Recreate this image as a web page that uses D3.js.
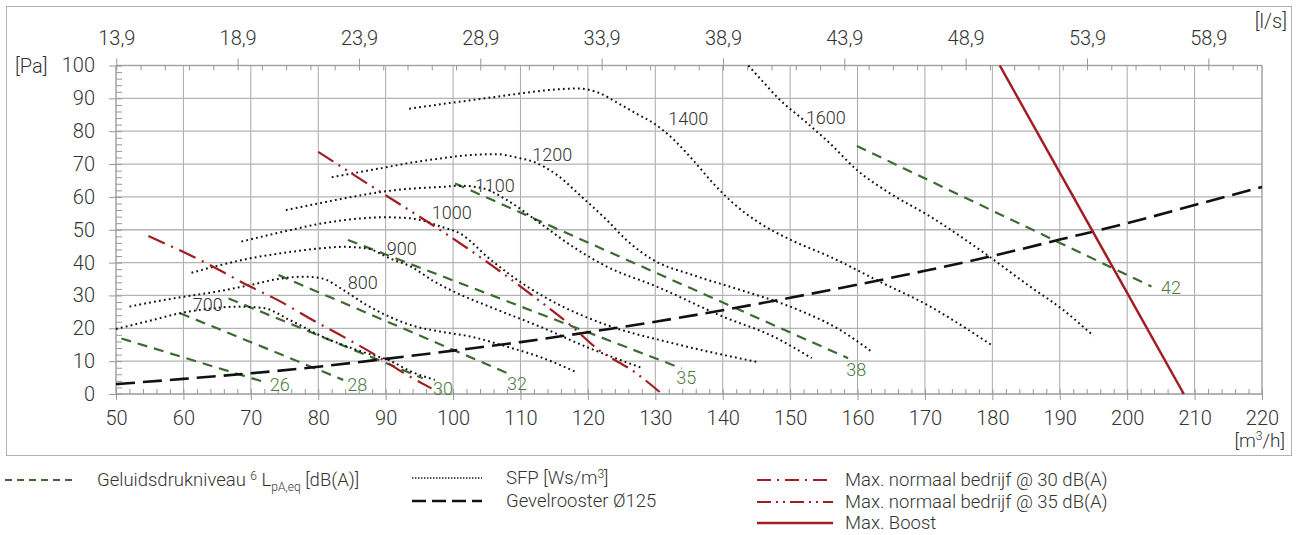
<!DOCTYPE html>
<html>
<head>
<meta charset="utf-8">
<script src="https://cdn.jsdelivr.net/npm/d3@7"></script>
<style>
  body { margin: 0; background: #fff; }
  svg text { font-family: Roboto, "Noto Sans", sans-serif; font-weight: 300; fill: #333; }
</style>
</head>
<body>
<div id="chart"></div>
<script>
// tick labels
const flowTicks = [50, 60, 70, 80, 90, 100, 110, 120, 130, 140, 150, 160, 170, 180, 190, 200, 210, 220];
const pressureTicks = [0, 10, 20, 30, 40, 50, 60, 70, 80, 90, 100];
const lsTicks = [13.9, 18.9, 23.9, 28.9, 33.9, 38.9, 43.9, 48.9, 53.9, 58.9];
const lsLabels = ["13,9", "18,9", "23,9", "28,9", "33,9", "38,9", "43,9", "48,9", "53,9", "58,9"];

// SFP curves [m3/h, Pa]
const sfp700 = [[50, 19.8], [55, 22.3], [59.5, 24.6], [64, 26], [68, 26.6], [71.8, 26.2], [75.8, 22.5], [80.7, 17.4], [87.2, 12.4], [90.6, 10.2], [93.6, 7], [97.3, 4.3]];
const sfp800 = [[52, 26.6], [56, 28.2], [60, 29.6], [65, 31.2], [70, 33.2], [74, 35], [77.8, 35.7], [80.5, 35.2], [83.7, 31.7], [87, 27.3], [90.6, 23.5], [94, 20.8], [98.1, 19], [103, 17.3], [108, 14.4], [113, 11.2], [118.1, 6.8]];
const sfp900 = [[61.2, 36.9], [65, 39], [69.9, 41.3], [75, 43], [80.7, 44.4], [83.7, 44.8], [87.2, 44.3], [90.6, 41.3], [94, 38.5], [97, 34.5], [100.5, 30.8], [105.5, 26.5], [112.9, 20.5], [120.3, 13.9], [128.2, 7.8]];
const sfp1000 = [[68.6, 46.4], [75, 49.5], [80.7, 52], [85, 53.2], [89.7, 53.8], [93.6, 53.5], [96, 52.5], [98.1, 51], [101, 48.9], [105.5, 41], [110.4, 33.5], [115.4, 27.5], [122.8, 21], [132.7, 15.4], [145, 9.8]];
const sfp1100 = [[75.2, 56], [80, 58], [85, 60], [90, 61.7], [95, 62.7], [98.1, 63], [101, 63.4], [104.5, 62.6], [108, 59], [112.9, 52], [117.8, 44.8], [122.8, 38.8], [130.2, 32.7], [140.1, 23.5], [147.5, 17.5], [153.2, 10.9]];
const sfp1200 = [[82, 66], [86, 67.5], [90, 69], [94, 70.5], [98.1, 71.7], [103, 72.8], [106.5, 73], [109.4, 72], [111.9, 70.7], [115.4, 66.7], [119.3, 59.6], [122.8, 53], [125.7, 46.9], [129.7, 40.8], [135.6, 36.2], [142.6, 31.7], [150, 26.6], [157.4, 19.5], [162.1, 12.9]];
const sfp1400 = [[93.5, 86.8], [98.1, 88.2], [104, 89.8], [110, 91.5], [114, 92.5], [118.5, 93], [121.5, 91.8], [124.5, 88.5], [127.5, 85], [129.7, 82.5], [132.7, 77.5], [135.6, 71.2], [138.6, 64.1], [141.6, 58], [145.5, 52], [150, 47], [155.9, 41.8], [163.3, 34.2], [170.8, 26.6], [175.7, 20.5], [180.1, 14.6]];
const sfp1600 = [[143.8, 100], [146, 95], [148.5, 89.5], [152, 83.4], [155.9, 76.3], [159.9, 68.2], [164.8, 61.1], [170.8, 54], [178.2, 43.8], [185.6, 32.7], [190.5, 25.6], [195, 17.7]];
const sfpLabels = ["700", "800", "900", "1000", "1100", "1200", "1400", "1600"];
const sfpLabelAt = [[63.6, 27.1], [86.6, 33.8], [92.4, 44.4], [99.8, 55.1], [106.2, 63.6], [114.7, 72.8], [134.9, 84], [155.3, 84.3]];

// Geluidsdrukniveau lines
const g26 = [[50.8, 16.9], [71.9, 3.7]];
const g28 = [[59.5, 24.6], [83.7, 4.3]];
const g30 = [[66.7, 29.1], [95.5, 4.8]];
const g32 = [[74.1, 36.2], [108.7, 5.8]];
const g35 = [[84.4, 46.9], [133.9, 7.8]];
const g38 = [[100.3, 64.1], [158.6, 10.9]];
const g42 = [[159.9, 75.5], [203.6, 32.7]];
const gLabels = ["26", "28", "30", "32", "35", "38", "42"];
const gLabelAt = [[74.3, 3], [85.8, 3], [98.5, 1.8], [109.5, 3.3], [134.6, 4.9], [159.8, 7.6], [206.5, 32.3]];

// gevelrooster
const gevel = [[50, 3], [60, 4.6], [70, 6.3], [80, 8.3], [90, 10.7], [100, 13.2], [110, 15.8], [120, 18.8], [130, 22], [140, 25.5], [150, 29.3], [160, 33.3], [170, 37.5], [180, 42], [190, 47], [200, 52], [210, 57.5], [220, 63]];

// red limits
const max30 = [[54.8, 48.1], [63.9, 39.3], [69.9, 32.7], [73.8, 28.8], [79.8, 21.8], [83.5, 17.7], [88.2, 12.2], [92.6, 6.5], [96.8, 1.7]];
const max35 = [[80, 73.7], [90, 60.5], [98.1, 49.9], [106, 38.8], [111.7, 30.1], [117.4, 21], [121.3, 13.9], [127.2, 6.3], [131, 0]];
const boost = [[181.1, 100], [208.4, 0]];

document.addEventListener("DOMContentLoaded", () => {
  const width = 1298;
  const height = 535;
  const left = 116, right = 1262, top = 65.5, bottom = 394;

  const green = "#3d6a33";
  const red = "#a11d21";

  const svg = d3.select("#chart").append("svg")
    .attr("width", width)
    .attr("height", height);

  // outer frame
  svg.append("rect")
    .attr("x", 6.5).attr("y", 6.5)
    .attr("width", 1285).attr("height", 449)
    .attr("fill", "none").attr("stroke", "#b0b0b0");

  const x = d3.scaleLinear().domain([50, 220]).range([left, right]);
  const y = d3.scaleLinear().domain([0, 100]).range([bottom, top]);

  // grid
  svg.append("g").selectAll("line").data(flowTicks).enter().append("line")
    .attr("x1", d => x(d)).attr("x2", d => x(d))
    .attr("y1", top).attr("y2", bottom)
    .attr("stroke", "#a9a9a9");
  svg.append("g").selectAll("line").data(pressureTicks).enter().append("line")
    .attr("x1", left).attr("x2", right)
    .attr("y1", d => y(d)).attr("y2", d => y(d))
    .attr("stroke", "#b4b4b4").attr("stroke-width", 1.3);

  svg.append("rect")
    .attr("x", left).attr("y", top)
    .attr("width", right - left).attr("height", bottom - top)
    .attr("fill", "none").attr("stroke", "#a0a0a0");

  const styleAxis = (g) => {
    g.select(".domain").remove();
    g.selectAll(".tick line").attr("stroke", "#999");
    g.selectAll(".tick text").attr("fill", "#333").style("font-size", "20px");
  };

  // minor ticks
  svg.append("g").attr("transform", `translate(0,${bottom})`)
    .call(d3.axisBottom(x).tickValues(d3.range(50, 221, 2)).tickSize(-5).tickFormat(""))
    .call(styleAxis);
  svg.append("g").attr("transform", `translate(${left},0)`)
    .call(d3.axisLeft(y).tickValues(d3.range(0, 101, 2)).tickSize(-6).tickFormat(""))
    .call(styleAxis);
  svg.append("g").attr("transform", `translate(0,${top})`)
    .call(d3.axisTop(x).tickValues(d3.range(13.9, 61, 1).map(d => d * 3.6)).tickSize(-5).tickFormat(""))
    .call(styleAxis);

  // major axes
  svg.append("g").attr("transform", `translate(0,${bottom})`)
    .call(d3.axisBottom(x).tickValues(flowTicks).tickSize(6).tickPadding(11).tickFormat(d3.format("d")))
    .call(styleAxis);
  svg.append("g").attr("transform", `translate(${left},0)`)
    .call(d3.axisLeft(y).tickValues(pressureTicks).tickSize(7).tickPadding(14))
    .call(styleAxis);
  svg.append("g").attr("transform", `translate(0,${top})`)
    .call(d3.axisTop(x).tickValues(lsTicks.map(d => d * 3.6)).tickSize(7).tickPadding(14)
      .tickFormat((d, i) => lsLabels[i]))
    .call(styleAxis);

  // unit labels
  svg.append("text").attr("x", 15).attr("y", top).attr("dy", "0.35em")
    .style("font-size", "20px").text("[Pa]");
  svg.append("text").attr("x", 1287).attr("y", 28).attr("text-anchor", "end")
    .style("font-size", "20px").text("[l/s]");
  const unitX = svg.append("text").attr("x", 1285).attr("y", 447).attr("text-anchor", "end")
    .style("font-size", "19px");
  unitX.append("tspan").text("[m");
  unitX.append("tspan").attr("dy", -7).style("font-size", "12px").text("3");
  unitX.append("tspan").attr("dy", 7).text("/h]");

  const plot = svg.append("g");
  const line = d3.line().x(d => x(d[0])).y(d => y(d[1]));
  const smooth = d3.line().x(d => x(d[0])).y(d => y(d[1])).curve(d3.curveMonotoneX);

  // green noise lines
  const gLines = [g26, g28, g30, g32, g35, g38, g42];
  plot.selectAll(".g-line").data(gLines).enter().append("path")
    .attr("class", "g-line")
    .attr("d", line)
    .attr("fill", "none").attr("stroke", green)
    .attr("stroke-width", 2.2).attr("stroke-dasharray", "10,7");

  // SFP curves
  const sfpCurves = [sfp700, sfp800, sfp900, sfp1000, sfp1100, sfp1200, sfp1400, sfp1600];
  plot.selectAll(".sfp").data(sfpCurves).enter().append("path")
    .attr("class", "sfp")
    .attr("d", smooth)
    .attr("fill", "none").attr("stroke", "#111")
    .attr("stroke-width", 2).attr("stroke-dasharray", "1.8,3.2");

  // gevelrooster
  plot.append("path").datum(gevel)
    .attr("d", smooth)
    .attr("fill", "none").attr("stroke", "#111")
    .attr("stroke-width", 2.6).attr("stroke-dasharray", "19,8");

  // red limits
  plot.append("path").datum(max30)
    .attr("d", smooth)
    .attr("fill", "none").attr("stroke", red)
    .attr("stroke-width", 2.2).attr("stroke-dasharray", "18,7,2,7");
  plot.append("path").datum(max35)
    .attr("d", smooth)
    .attr("fill", "none").attr("stroke", red)
    .attr("stroke-width", 2.2).attr("stroke-dasharray", "18,6,2,6,2,6");
  plot.append("path").datum(boost)
    .attr("d", line)
    .attr("fill", "none").attr("stroke", red)
    .attr("stroke-width", 2.5);

  // curve labels
  plot.selectAll(".sfp-label").data(sfpLabels).enter().append("text")
    .attr("class", "sfp-label")
    .attr("x", (d, i) => x(sfpLabelAt[i][0]))
    .attr("y", (d, i) => y(sfpLabelAt[i][1]))
    .attr("dy", "0.36em").attr("text-anchor", "middle")
    .style("font-size", "18px")
    .text(d => d);
  plot.selectAll(".g-label").data(gLabels).enter().append("text")
    .attr("class", "g-label")
    .attr("x", (d, i) => x(gLabelAt[i][0]))
    .attr("y", (d, i) => y(gLabelAt[i][1]))
    .attr("dy", "0.36em").attr("text-anchor", "middle")
    .style("font-size", "18px").style("fill", "#4b7a40")
    .text(d => d);

  // legend
  const legend = svg.append("g");
  const legendLine = (x1, x2, yy, color, w, dash) => {
    legend.append("line")
      .attr("x1", x1).attr("x2", x2).attr("y1", yy).attr("y2", yy)
      .attr("stroke", color).attr("stroke-width", w)
      .attr("stroke-dasharray", dash);
  };
  const legendText = (xx, yy) => legend.append("text")
    .attr("x", xx).attr("y", yy).attr("dy", "0.35em")
    .style("font-size", "18.5px");

  legendLine(5, 72, 480, green, 2, "7,5");
  const t1 = legendText(97, 480);
  t1.append("tspan").text("Geluidsdrukniveau ");
  t1.append("tspan").attr("dy", -6).style("font-size", "12px").text("6");
  t1.append("tspan").attr("dy", 6).text(" L");
  t1.append("tspan").attr("dy", 5).style("font-size", "12px").text("pA,eq");
  t1.append("tspan").attr("dy", -5).text(" [dB(A)]");

  legendLine(412, 482, 478, "#111", 1.6, "1.4,1.6");
  const t2 = legendText(506, 478);
  t2.append("tspan").text("SFP [Ws/m");
  t2.append("tspan").attr("dy", -6).style("font-size", "12px").text("3");
  t2.append("tspan").attr("dy", 6).text("]");

  legendLine(412, 482, 501, "#111", 2.4, "14,6");
  legendText(506, 501).text("Gevelrooster Ø125");

  legendLine(757, 833, 480, red, 2, "14,6,2,6");
  legendText(845, 480).text("Max. normaal bedrijf @ 30 dB(A)");
  legendLine(757, 833, 502, red, 2, "14,5,2,5,2,5");
  legendText(845, 502).text("Max. normaal bedrijf @ 35 dB(A)");
  legendLine(757, 833, 523, red, 2.6, null);
  legendText(845, 523).text("Max. Boost");
});
</script>
</body>
</html>
